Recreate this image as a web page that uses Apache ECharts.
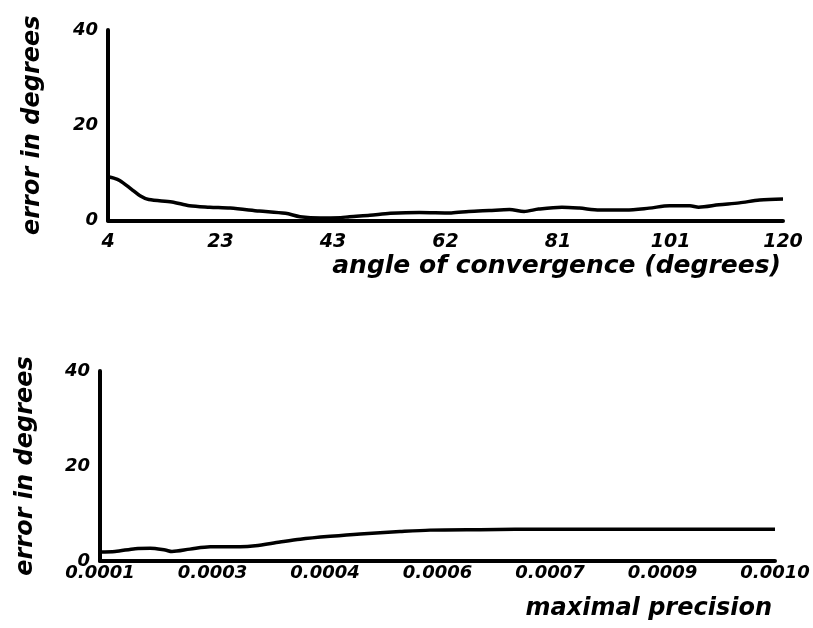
<!DOCTYPE html>
<html>
<head>
<meta charset="utf-8">
<script src="https://cdn.jsdelivr.net/npm/echarts@6/dist/echarts.min.js"></script>
<style>
    html, body {margin: 0; padding: 0; background: #fff;}
    #chart {width: 813px; height: 628px;}
</style>
</head>
<body>
<div id="chart"></div>
<script>
// top panel: error vs angle of convergence
const angleX = [4, 5, 6, 8, 9.5, 11, 15, 18, 21.5, 25, 30, 34.5, 37, 40.5, 44, 45.5, 49, 52.5, 57.5, 63, 66, 69.5, 73, 75.5, 78, 82, 85, 88.5, 93, 97, 100.5, 104, 105.5, 109, 112.5, 116, 120];
const angleErr = [9.2, 8.9, 8.4, 6.6, 5.2, 4.4, 3.9, 3.1, 2.8, 2.6, 2.0, 1.5, 0.8, 0.5, 0.6, 0.8, 1.1, 1.5, 1.7, 1.6, 1.9, 2.1, 2.3, 1.9, 2.4, 2.8, 2.6, 2.2, 2.2, 2.6, 3.1, 3.1, 2.8, 3.3, 3.7, 4.3, 4.5];
const angleTicks = [4, 23.33, 42.67, 62, 81.33, 100.67, 120];
const angleTickLabels = ['4', '23', '43', '62', '81', '101', '120'];

// bottom panel: error vs maximal precision
const precX = [0.0001, 0.00012, 0.000147, 0.000167, 0.000187, 0.000196, 0.00022, 0.000247, 0.000287, 0.000307, 0.00034, 0.000367, 0.000407, 0.000447, 0.0005, 0.00054, 0.000607, 0.0007, 0.000833, 0.001];
const precErr = [1.9, 2.0, 2.6, 2.7, 2.3, 2.0, 2.5, 3.0, 3.0, 3.2, 4.0, 4.6, 5.2, 5.7, 6.2, 6.5, 6.6, 6.7, 6.7, 6.7];
const precTicks = [0.0001, 0.00025, 0.0004, 0.00055, 0.0007, 0.00085, 0.001];
const precTickLabels = ['0.0001', '0.0003', '0.0004', '0.0006', '0.0007', '0.0009', '0.0010'];

const FONT = 'DejaVu Sans';

const labelFor = (ticks, labels) => v => {
    let best = 0;
    ticks.forEach((t, i) => {
        if (Math.abs(t - v) < Math.abs(ticks[best] - v)) best = i;
    });
    return labels[best];
};

const textStyle = size => ({
    fontFamily: FONT, fontWeight: 'bold', fontStyle: 'italic', fontSize: size, color: '#000'
});

const axisLine = {show: true, onZero: false, lineStyle: {color: '#000', width: 4}};

const yAxis = (gridIndex, gap) => ({
    gridIndex,
    type: 'value',
    min: 0,
    max: 40,
    interval: 20,
    name: 'error in degrees',
    nameLocation: 'middle',
    nameRotate: 90,
    nameGap: gap,
    nameTextStyle: textStyle(24),
    axisLine,
    axisTick: {show: false},
    splitLine: {show: false},
    axisLabel: {...textStyle(18), margin: 10}
});

const chart = echarts.init(document.getElementById('chart'), null, {renderer: 'canvas'});

const option = {
    backgroundColor: '#fff',
    animation: false,
    grid: [
        {left: 108, right: 30, top: 30, height: 190.5},
        {left: 100, right: 38, top: 371, height: 190}
    ],
    xAxis: [
        {
            gridIndex: 0,
            type: 'value',
            min: 4,
            max: 120,
            name: 'angle of convergence (degrees)',
            nameLocation: 'end',
            nameGap: -2,
            nameTextStyle: {...textStyle(25), align: 'right', verticalAlign: 'top', padding: [33, 0, 0, 0]},
            axisLine,
            axisTick: {show: false},
            splitLine: {show: false},
            axisLabel: {
                ...textStyle(19),
                margin: 12,
                customValues: angleTicks,
                formatter: labelFor(angleTicks, angleTickLabels)
            }
        },
        {
            gridIndex: 1,
            type: 'value',
            min: 0.0001,
            max: 0.001,
            name: 'maximal precision',
            nameLocation: 'end',
            nameGap: -3,
            nameTextStyle: {...textStyle(24), align: 'right', verticalAlign: 'top', padding: [36, 0, 0, 0]},
            axisLine,
            axisTick: {show: false},
            splitLine: {show: false},
            axisLabel: {
                ...textStyle(18),
                margin: 3,
                customValues: precTicks,
                formatter: labelFor(precTicks, precTickLabels)
            }
        }
    ],
    yAxis: [yAxis(0, 63), yAxis(1, 62)],
    series: [
        {
            type: 'line',
            xAxisIndex: 0,
            yAxisIndex: 0,
            data: angleX.map((x, i) => [x, angleErr[i]]),
            smooth: 0.3,
            showSymbol: false,
            lineStyle: {color: '#000', width: 3.5}
        },
        {
            type: 'line',
            xAxisIndex: 1,
            yAxisIndex: 1,
            data: precX.map((x, i) => [x, precErr[i]]),
            smooth: 0.3,
            showSymbol: false,
            lineStyle: {color: '#000', width: 3.5}
        }
    ]
};

chart.setOption(option);
</script>
</body>
</html>
